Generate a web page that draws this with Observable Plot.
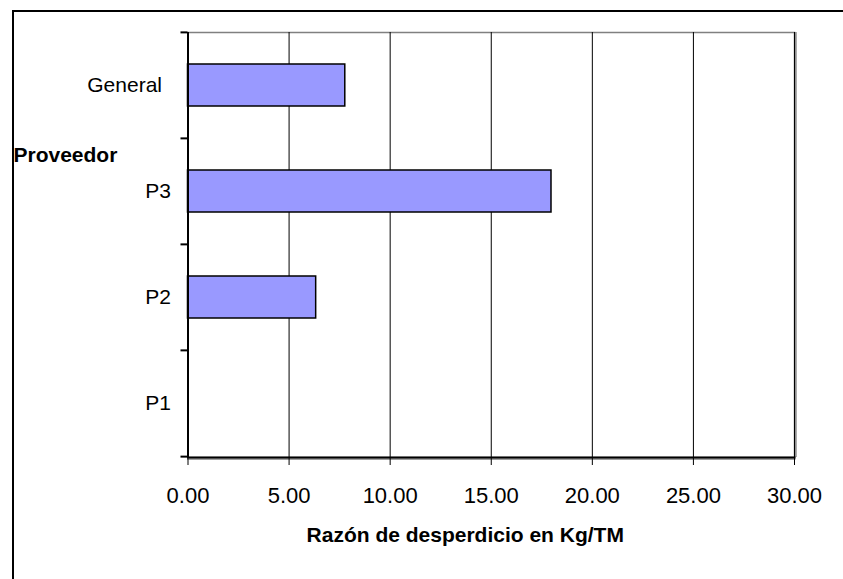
<!DOCTYPE html>
<html>
<head>
<meta charset="utf-8">
<script src="https://cdn.jsdelivr.net/npm/d3@7"></script>
<script src="https://cdn.jsdelivr.net/npm/@observablehq/plot@0.6"></script>
<style>
  html, body { margin: 0; padding: 0; background: #fff; }
  #wrap { position: relative; width: 843px; height: 579px; overflow: hidden; }
  #border { position: absolute; left: 12px; top: 10px; width: 831px; height: 569px;
            border-top: 2px solid #000; border-left: 2px solid #000; pointer-events: none; box-sizing: border-box; }
</style>
</head>
<body>
<div id="wrap"><div id="border"></div></div>
<script>
const categories = ["General", "P3", "P2", "P1"];
const values = [7.78, 17.98, 6.34, 0];
const xTicks = [0, 5, 10, 15, 20, 25, 30];
const xTitle = "Razón de desperdicio en Kg/TM";
const yTitle = "Proveedor";

const data = categories.map((c, i) => ({cat: c, value: values[i]}));
const font = "'Liberation Sans', Arial, sans-serif";
const step = (579 - 32 - 122) / categories.length;

const chart = Plot.plot({
  width: 843,
  height: 579,
  marginLeft: 187.5,
  marginRight: 49,
  marginTop: 32,
  marginBottom: 122,
  style: {fontFamily: font, background: "transparent", color: "black"},
  x: {domain: [0, 30]},
  y: {domain: categories, paddingInner: 0.6, paddingOuter: 0.3},
  marks: [
    Plot.frame({stroke: "#808080", strokeWidth: 1.5}),
    Plot.ruleX(xTicks.slice(1, -1), {stroke: "black", strokeWidth: 1}),
    Plot.ruleX([xTicks[xTicks.length - 1]], {stroke: "#909090", strokeWidth: 2.5, dx: 1}),
    Plot.ruleX([xTicks[xTicks.length - 1]], {stroke: "black", strokeWidth: 1}),
    Plot.barX(data.filter(d => d.value > 0), {x: "value", y: "cat", fill: "#9999FF", stroke: "black", strokeWidth: 1.5}),
    Plot.ruleX([0], {stroke: "black", strokeWidth: 2}),
    Plot.frame({anchor: "bottom", stroke: "#a0a0a0", strokeWidth: 2, dy: 1.5}),
    Plot.frame({anchor: "bottom", stroke: "black", strokeWidth: 2}),
    Plot.axisX({ticks: xTicks, tickFormat: d3.format(".2f"), tickSize: 8, tickPadding: 22, fontSize: 22, label: null, strokeWidth: 1}),
    Plot.axisY(categories.slice(1), {tickSize: 0, tickPadding: 17, fontSize: 21, label: null}),
    Plot.axisY(categories.slice(0, 1), {tickSize: 0, tickPadding: 17, fontSize: 21, label: null, dx: -9}),
    Plot.axisY(categories, {tickSize: 7, tickFormat: () => "", label: null, dy: -step / 2, strokeWidth: 2}),
    Plot.axisY(categories.slice(-1), {tickSize: 7, tickFormat: () => "", label: null, dy: step / 2, strokeWidth: 2}),
    Plot.text([yTitle], {frameAnchor: "top-left", text: d => d, textAnchor: "start", lineAnchor: "middle",
      dx: -174.5, dy: 123, fontSize: 21, fontWeight: "bold"}),
    Plot.text([xTitle], {frameAnchor: "bottom", text: d => d, textAnchor: "middle", lineAnchor: "middle",
      dx: -26, dy: 78, fontSize: 21, fontWeight: "bold"})
  ]
});
chart.style.position = "absolute";
chart.style.left = "0";
chart.style.top = "0";
document.getElementById("wrap").prepend(chart);
</script>
</body>
</html>
